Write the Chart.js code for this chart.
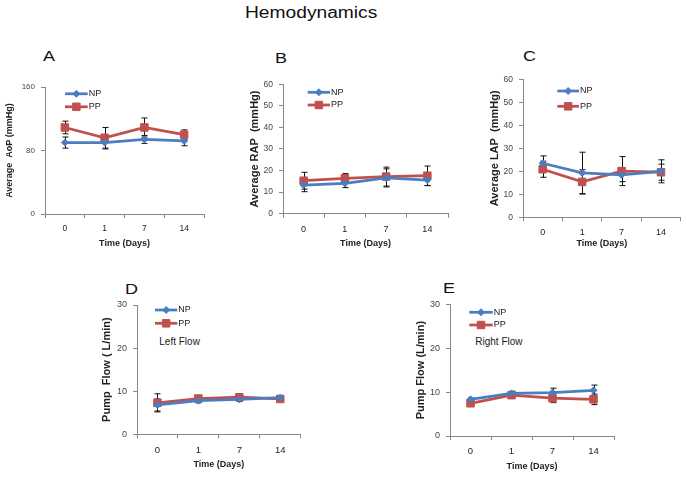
<!DOCTYPE html>
<html><head><meta charset="utf-8">
<script src="https://cdn.jsdelivr.net/npm/chart.js@4.4.1/dist/chart.umd.min.js"></script>
<style>
html,body{margin:0;padding:0;background:#fff;width:687px;height:477px;overflow:hidden;position:relative;font-family:"Liberation Sans",Arial,sans-serif;}
canvas{position:absolute;}
.lbl{position:absolute;color:#111;white-space:nowrap;transform-origin:0 0;line-height:1;}
</style></head><body>
<div class="lbl" style="left:245px;top:5px;font-size:16px;transform:scaleX(1.2)">Hemodynamics</div>
<div class="lbl" style="left:43px;top:48px;font-size:15px;transform:scaleX(1.2)">A</div>
<div class="lbl" style="left:275px;top:49.7px;font-size:15px;transform:scaleX(1.2)">B</div>
<div class="lbl" style="left:523px;top:48px;font-size:15px;transform:scaleX(1.2)">C</div>
<div class="lbl" style="left:125px;top:281.3px;font-size:15px;transform:scaleX(1.2)">D</div>
<div class="lbl" style="left:443px;top:279.7px;font-size:15px;transform:scaleX(1.2)">E</div>
<div class="lbl" style="left:159.3px;top:336.8px;font-size:10px;color:#222">Left Flow</div>
<div class="lbl" style="left:475.3px;top:336.8px;font-size:10px;color:#222">Right Flow</div>
<canvas id="cA"></canvas><canvas id="cB"></canvas><canvas id="cC"></canvas><canvas id="cD"></canvas><canvas id="cE"></canvas>
<script>
// ---- data ----
const days = ['0', '1', '7', '14'];
const seriesNames = ['NP', 'PP'];

const aopNP = [90, 90, 94, 92];
const aopPP = [109, 96, 109, 100];
const aopNPerr = [7, 8, 5, 6];
const aopPPerr = [8, 13, 12, 6];

const rapNP = [13.3, 14.1, 16.6, 15.6];
const rapPP = [15.3, 16.4, 17.2, 17.6];
const rapNPerr = [3.1, 2.0, 4.2, 2.6];
const rapPPerr = [3.9, 2.2, 4.4, 4.5];

const lapNP = [23.5, 19.3, 18.4, 20.0];
const lapPP = [20.9, 15.4, 20.1, 19.6];
const lapNPerr = [3.2, 9.0, 2.9, 5.0];
const lapPPerr = [3.5, 5.3, 6.3, 3.5];

const leftNP = [6.8, 7.8, 8.1, 8.5];
const leftPP = [7.3, 8.3, 8.6, 8.2];
const leftNPerr = [1.4, 0.5, 0.5, 0.4];
const leftPPerr = [2.1, 0.5, 0.5, 0.4];

const rightNP = [8.35, 9.7, 9.9, 10.4];
const rightPP = [7.45, 9.3, 8.6, 8.35];
const rightNPerr = [0.3, 0.5, 1.0, 1.2];
const rightPPerr = [0.3, 0.6, 1.0, 1.2];

const yTitles = ['Average  AoP (mmHg)', 'Average RAP  (mmHg)', 'Average LAP  (mmHg)', 'Pump  Flow ( L/min)', 'Pump Flow (L/min)'];
const xTitle = 'Time (Days)';

// ---- layout ----
const FONT = '"Liberation Sans", Arial, sans-serif';
const NPC = '#4A7EC0', PPC = '#C0504D';
const panels = [
  {id:'cA', canvas:[0,40,222,212], area:[45,87,204,214], y:[0,160,80], np:aopNP, pp:aopPP, npe:aopNPerr, ppe:aopPPerr, yt:yTitles[0], ytSize:9, ytX:10, tSize:8, xtY:243.7, lg:[65,87.7,93.8,106.8]},
  {id:'cB', canvas:[230,40,228,212], area:[283,84.3,448,213.7], y:[0,60,10], np:rapNP, pp:rapPP, npe:rapNPerr, ppe:rapPPerr, yt:yTitles[1], ytSize:11, ytX:255, tSize:8.5, xtY:243.7, lg:[307.7,330,92.3,105]},
  {id:'cC', canvas:[465,40,222,212], area:[523,79.3,683,217.3], y:[0,60,10], np:lapNP, pp:lapPP, npe:lapNPerr, ppe:lapPPerr, yt:yTitles[2], ytSize:11, ytX:495, tSize:8.5, xtY:243.7, lg:[557.3,579,91,106.3]},
  {id:'cD', canvas:[95,270,225,207], area:[137,305,300.7,434.3], y:[0,30,10], np:leftNP, pp:leftPP, npe:leftNPerr, ppe:leftPPerr, yt:yTitles[3], ytSize:11, ytX:107, tSize:9, xtY:464.3, lg:[155,177.3,310,323.3]},
  {id:'cE', canvas:[400,270,230,207], area:[450,304.3,614,436], y:[0,30,10], np:rightNP, pp:rightPP, npe:rightNPerr, ppe:rightPPerr, yt:yTitles[4], ytSize:11, ytX:420.7, tSize:9, xtY:467, lg:[469.3,492.7,312.3,325]}
];

function marker(ctx, style, x, y, r, color) {
  ctx.fillStyle = color; ctx.strokeStyle = color; ctx.lineWidth = 1;
  ctx.beginPath();
  if (style === 'rect') { const s = r * Math.SQRT1_2; ctx.rect(x - s, y - s, 2 * s, 2 * s); }
  else { ctx.moveTo(x, y - r); ctx.lineTo(x + r, y); ctx.lineTo(x, y + r); ctx.lineTo(x - r, y); ctx.closePath(); }
  ctx.fill(); ctx.stroke();
}

const errPlugin = {
  id: 'errbars',
  beforeDatasetsDraw(chart) {
    const ctx = chart.ctx, xs = chart.scales.x, ys = chart.scales.y;
    ctx.save(); ctx.strokeStyle = '#111'; ctx.lineWidth = 1;
    chart.data.datasets.forEach(ds => {
      ds.err.forEach((e, i) => {
        const x = Math.round(xs.getPixelForValue(i)) + 0.5;
        const yT = ys.getPixelForValue(ds.data[i] + e), yB = ys.getPixelForValue(ds.data[i] - e);
        ctx.beginPath();
        ctx.moveTo(x, yT); ctx.lineTo(x, yB);
        ctx.moveTo(x - 3, yT); ctx.lineTo(x + 3, yT);
        ctx.moveTo(x - 3, yB); ctx.lineTo(x + 3, yB);
        ctx.stroke();
      });
    });
    ctx.restore();
  }
};

const legendPlugin = {
  id: 'lg',
  afterDraw(chart, args, o) {
    const ctx = chart.ctx;
    ctx.save();
    chart.data.datasets.forEach((ds, k) => {
      const y = (k === 0 ? o.y1 : o.y2) - o.oy;
      const x1 = o.x1 - o.ox, x2 = o.x2 - o.ox;
      ctx.strokeStyle = ds.borderColor; ctx.lineWidth = 2.75;
      ctx.beginPath(); ctx.moveTo(x1, y); ctx.lineTo(x2, y); ctx.stroke();
      marker(ctx, ds.pointStyle, (x1 + x2) / 2, y, ds.pointRadius, ds.borderColor);
      ctx.fillStyle = '#222'; ctx.font = '9px ' + FONT; ctx.textBaseline = 'middle'; ctx.textAlign = 'left';
      ctx.fillText(ds.label, x2 + 1, y);
    });
    ctx.restore();
  }
};

panels.forEach(p => {
  const [cx, cy, cw, ch] = p.canvas;
  const [al, at, ar, ab] = p.area;
  const cv = document.getElementById(p.id);
  cv.width = cw; cv.height = ch;
  cv.style.left = cx + 'px'; cv.style.top = cy + 'px';
  cv.style.width = cw + 'px'; cv.style.height = ch + 'px';
  const yw = al - cx, xh = cy + ch - ab;
  const xtLH = 9 * 1.2, ytLH = p.ytSize * 1.2;
  new Chart(cv, {
    type: 'line',
    data: {
      labels: days,
      datasets: [
        {label: seriesNames[0], data: p.np, err: p.npe, borderColor: NPC, backgroundColor: NPC, borderWidth: 2.75, pointStyle: 'rectRot', pointRadius: 3.5, pointBackgroundColor: NPC, pointBorderColor: NPC, pointBorderWidth: 1, tension: 0},
        {label: seriesNames[1], data: p.pp, err: p.ppe, borderColor: PPC, backgroundColor: PPC, borderWidth: 2.75, pointStyle: 'rect', pointRadius: 5.3, pointBackgroundColor: PPC, pointBorderColor: PPC, pointBorderWidth: 1, tension: 0}
      ]
    },
    options: {
      responsive: false, animation: false, events: [], devicePixelRatio: 1,
      layout: {padding: {left: 0, top: at - cy, right: cx + cw - ar, bottom: 0}},
      plugins: {legend: {display: false}, tooltip: {enabled: false},
        lg: {x1: p.lg[0], x2: p.lg[1], y1: p.lg[2], y2: p.lg[3], ox: cx, oy: cy}},
      scales: {
        x: {type: 'category', offset: true,
          grid: {offset: true, drawOnChartArea: false, drawTicks: true, tickLength: 4, color: '#888'},
          border: {color: '#888', width: 1},
          ticks: {color: '#222', font: {size: p.tSize + 0.5, family: FONT}, padding: 6, maxRotation: 0, autoSkip: false},
          title: {display: true, text: xTitle, color: '#222', font: {size: 9, weight: 'bold', family: FONT}, padding: {top: 0, bottom: (cy + ch) - p.xtY - xtLH / 2}},
          afterFit(s) { s.height = xh; }
        },
        y: {min: p.y[0], max: p.y[1],
          grid: {drawOnChartArea: false, drawTicks: true, tickLength: 4, color: '#888'},
          border: {color: '#888', width: 1},
          ticks: {stepSize: p.y[2], color: '#444', font: {size: p.tSize, family: FONT}, padding: 6},
          title: {display: true, text: p.yt, color: '#222', font: {size: p.ytSize, weight: 'bold', family: FONT}, padding: {top: p.ytX - cx - ytLH / 2, bottom: 0}},
          afterFit(s) { s.width = yw; }
        }
      }
    },
    plugins: [errPlugin, legendPlugin]
  });
});
</script>
</body></html>
